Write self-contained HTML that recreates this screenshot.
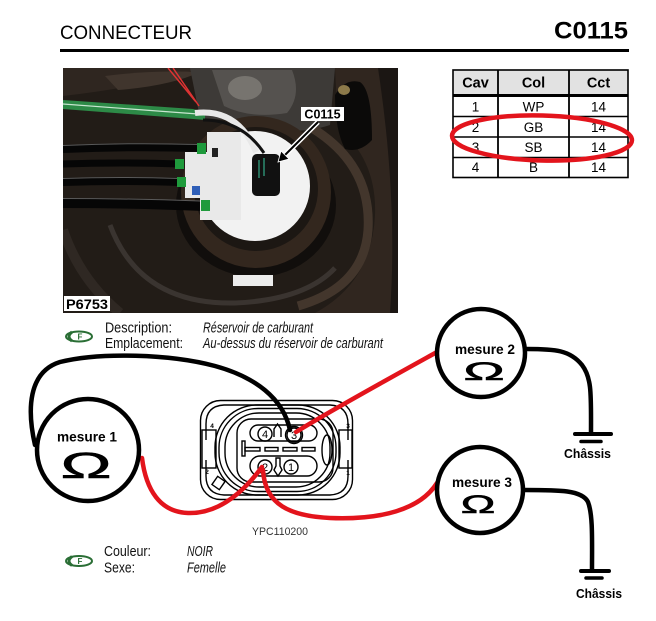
<!DOCTYPE html>
<html><head><meta charset="utf-8"><style>
html,body{margin:0;padding:0;background:#fff;}
svg{display:block;}
</style></head><body>
<svg width="656" height="621" viewBox="0 0 656 621" xmlns="http://www.w3.org/2000/svg" font-family="'Liberation Sans', Arial, sans-serif">
<defs>
<clipPath id="pc"><rect x="63" y="68" width="335" height="245"/></clipPath>
</defs>

<!-- Header -->
<text x="60" y="39" font-size="19" textLength="132" lengthAdjust="spacingAndGlyphs">CONNECTEUR</text>
<text x="554" y="38.5" font-size="24" font-weight="bold" textLength="74" lengthAdjust="spacingAndGlyphs">C0115</text>
<rect x="60" y="49" width="569" height="3" fill="#000"/>

<!-- Table -->
<rect x="453" y="70" width="175" height="25" fill="#e2e2e2"/>
<rect x="453" y="70" width="175" height="107.5" fill="none" stroke="#000" stroke-width="1.6"/>
<rect x="453" y="94" width="175" height="3" fill="#000"/>
<line x1="453" y1="116.5" x2="628" y2="116.5" stroke="#000" stroke-width="1.5"/>
<line x1="453" y1="137" x2="628" y2="137" stroke="#000" stroke-width="1.5"/>
<line x1="453" y1="157.5" x2="628" y2="157.5" stroke="#000" stroke-width="1.5"/>
<line x1="498" y1="70" x2="498" y2="177.5" stroke="#000" stroke-width="1.8"/>
<line x1="569" y1="70" x2="569" y2="177.5" stroke="#000" stroke-width="1.8"/>
<g font-size="14.5" font-weight="bold" text-anchor="middle">
<text x="475.5" y="87.5">Cav</text><text x="533.5" y="87.5">Col</text><text x="598.5" y="87.5">Cct</text>
</g>
<g font-size="13.5" text-anchor="middle">
<text x="475.5" y="111.5">1</text><text x="533.5" y="111.5">WP</text><text x="598.5" y="111.5">14</text>
<text x="475.5" y="131.8">2</text><text x="533.5" y="131.8">GB</text><text x="598.5" y="131.8">14</text>
<text x="475.5" y="152">3</text><text x="533.5" y="152">SB</text><text x="598.5" y="152">14</text>
<text x="475.5" y="172">4</text><text x="533.5" y="172">B</text><text x="598.5" y="172">14</text>
</g>
<ellipse cx="542" cy="138" rx="90" ry="22.5" fill="none" stroke="#e3141c" stroke-width="4.5" transform="rotate(1.5 542 138)"/>

<!-- Photo -->
<g clip-path="url(#pc)">
<rect x="63" y="68" width="335" height="245" fill="#221c17"/>
<path d="M63 68 H200 Q150 86 63 96 Z" fill="#2f2620"/>
<path d="M105 76 Q150 70 200 72 Q170 86 118 90 Z" fill="#40352d"/>
<path d="M190 68 H335 L330 125 Q300 135 270 128 Q240 120 200 118 Z" fill="#3d3a37"/>
<path d="M212 70 H292 Q302 95 287 113 Q250 119 224 106 Z" fill="#55524f"/>
<ellipse cx="245" cy="88" rx="17" ry="12" fill="#77746f"/>
<path d="M335 68 H398 V313 H315 Q372 282 375 215 Q377 160 338 128 Z" fill="#30261f"/>
<path d="M378 68 H398 V313 H390 Q398 200 378 68Z" fill="#1b1613"/>
<path d="M312 128 Q372 165 368 230 Q364 287 298 306" fill="none" stroke="#43362c" stroke-width="9"/>
<path d="M110 225 Q140 305 235 303 Q305 300 335 268" fill="none" stroke="#3a3430" stroke-width="5"/>
<path d="M63 230 Q80 280 120 313" fill="none" stroke="#2f2823" stroke-width="10"/>
<ellipse cx="256" cy="205" rx="80" ry="72" fill="#110e0c"/>
<ellipse cx="256" cy="192" rx="75" ry="76" fill="#33271e"/>
<ellipse cx="256" cy="189" rx="62" ry="62" fill="#1c1713"/>
<ellipse cx="255" cy="186" rx="55" ry="55" fill="#f2f2f2"/>
<rect x="233" y="275" width="40" height="11" fill="#ececec"/>
<!-- green band -->
<path d="M63 100 L193 109 L205 112 L205 120 L193 119 L63 109 Z" fill="#2d8a47"/>
<path d="M63 104 L198 114" stroke="#c8e6d0" stroke-width="1.2"/>
<path d="M168 68 L196 102 M173 68 L199 106" stroke="#d33" stroke-width="1.5" fill="none"/>
<!-- white wires -->
<path d="M195 113 Q238 108 256 152" stroke="#e8e8e8" stroke-width="6" fill="none"/>
<path d="M203 120 Q242 120 264 153" stroke="#111" stroke-width="3" fill="none"/>
<!-- cables -->
<g fill="none" stroke-linecap="butt">
<path d="M63 149 Q130 146 200 148" stroke="#060606" stroke-width="8"/>
<path d="M63 164 Q120 162 180 164" stroke="#060606" stroke-width="7"/>
<path d="M63 182 Q120 180 180 182" stroke="#060606" stroke-width="8"/>
<path d="M63 203 Q130 203 203 206" stroke="#060606" stroke-width="10"/>
<path d="M63 145.5 Q130 142.5 198 144.5" stroke="#5a5a5a" stroke-width="1"/>
<path d="M63 178.5 Q120 176.5 178 178.5" stroke="#5a5a5a" stroke-width="1"/>
<path d="M63 198.5 Q130 198.5 200 201" stroke="#5a5a5a" stroke-width="1"/>
</g>
<!-- white block -->
<path d="M207 132 H241 V220 H200 V198 H185 V152 H207 Z" fill="#e9e9e9"/>
<rect x="212" y="148" width="6" height="9" fill="#222"/>
<rect x="197" y="143" width="9" height="11" fill="#1f9a3c"/>
<rect x="175" y="159" width="9" height="10" fill="#1f9a3c"/>
<rect x="177" y="177" width="9" height="10" fill="#1f9a3c"/>
<rect x="201" y="200" width="9" height="11" fill="#1f9a3c"/>
<rect x="192" y="186" width="8" height="9" fill="#2f5fb8"/>
<!-- black connector -->
<rect x="252" y="154" width="28" height="42" rx="5" fill="#111"/>
<path d="M259 160 V178 M264 158 V176" stroke="#3a8" stroke-width="1.2"/>
<!-- tube -->
<path d="M335 95 Q345 78 360 82 Q372 90 372 140 Q360 153 345 149 Q335 130 335 95Z" fill="#0b0a09"/>
<ellipse cx="344" cy="90" rx="6" ry="5" fill="#8d7a4a"/>
<!-- labels -->
<rect x="301" y="107" width="43" height="14" fill="#fff"/>
<text x="322.5" y="118.5" font-size="12.5" font-weight="bold" text-anchor="middle">C0115</text>
<path d="M318 122 L282 158" stroke="#fff" stroke-width="5"/>
<path d="M318 122 L284 156" stroke="#000" stroke-width="2"/>
<polygon points="278,162 281,151 289,159" fill="#000" stroke="#fff" stroke-width="0.8"/>
<rect x="64" y="296" width="46" height="15" fill="#fff"/>
<text x="66" y="309" font-size="13.5" font-weight="bold" textLength="42" lengthAdjust="spacingAndGlyphs">P6753</text>
</g>

<!-- Description block -->
<g>
<ellipse cx="79" cy="336.5" rx="13" ry="5" fill="#fff" stroke="#2a6e35" stroke-width="2"/>
<path d="M72 332 Q66 336.5 72 341" fill="none" stroke="#2a6e35" stroke-width="3"/>
<text x="80" y="339.5" font-size="8" font-weight="bold" fill="#2a6e35" text-anchor="middle">F</text>
</g>
<text x="105" y="332.5" font-size="15" textLength="67" lengthAdjust="spacingAndGlyphs" fill="#111">Description:</text>
<text x="105" y="348" font-size="15" textLength="78" lengthAdjust="spacingAndGlyphs" fill="#111">Emplacement:</text>
<text x="203" y="332.5" font-size="15" font-style="italic" textLength="110" lengthAdjust="spacingAndGlyphs" fill="#111">Réservoir de carburant</text>
<text x="203" y="348" font-size="15" font-style="italic" textLength="180" lengthAdjust="spacingAndGlyphs" fill="#111">Au-dessus du réservoir de carburant</text>

<!-- Connector drawing -->
<g fill="none" stroke="#000" stroke-width="1.4">
<rect x="200.5" y="400.5" width="152" height="99" rx="20" fill="#fff"/>
<path d="M206 440 V424 Q206 406 224 405 H330 Q348 406 348 424 V440 M348 460 V476 Q348 494 330 495 H224 Q206 494 206 476 V460"/>
<rect x="202" y="430" width="14" height="38"/>
<rect x="339" y="430" width="13" height="38"/>
<rect x="215" y="405" width="125" height="90" rx="42"/>
<rect x="219" y="408.5" width="117" height="83" rx="39"/>
<rect x="225" y="413" width="105" height="74" rx="34"/>
<rect x="237" y="419" width="96" height="63" rx="14"/>
<rect x="250" y="425" width="67" height="16" rx="8"/>
<rect x="250" y="456" width="67" height="20" rx="10"/>
<circle cx="265" cy="434" r="7"/>
<circle cx="294" cy="435" r="7"/>
<circle cx="294" cy="435" r="8.5"/>
<circle cx="265" cy="467" r="7"/>
<circle cx="291" cy="467" r="7"/>
<path d="M274 437 V429 L277.5 424 L281 429 V437"/>
<path d="M276 458 H280 V466 L282 470 L278 476 L274 470 L276 466 Z"/>
<rect x="242" y="441" width="3" height="15"/>
<rect x="245" y="447.5" width="15" height="3.5"/>
<rect x="265" y="447.5" width="13" height="3.5"/>
<rect x="283" y="447.5" width="14" height="3.5"/>
<rect x="302" y="447.5" width="13" height="3.5"/>
<ellipse cx="327" cy="450" rx="5" ry="15"/>
<rect x="214" y="478" width="9" height="10" transform="rotate(35 218.5 483)"/>
</g>
<g font-size="11" text-anchor="middle">
<text x="265" y="438">4</text><text x="294" y="439">3</text><text x="265" y="471">2</text><text x="291" y="471">1</text>
</g>
<g font-size="6.5" font-weight="bold" text-anchor="middle">
<text x="212" y="428">4</text><text x="348" y="428">3</text><text x="207" y="474">2</text><text x="348" y="475">1</text>
</g>
<text x="252" y="535" font-size="11" fill="#333" textLength="56" lengthAdjust="spacingAndGlyphs">YPC110200</text>

<!-- Wires -->
<g fill="none" stroke-width="4.5" stroke-linecap="round">
<path d="M35 445 C 27 410, 28 372, 60 362 C 100 352, 170 354, 215 366 C 255 377, 283 398, 290 430" stroke="#000"/>
<path d="M296 432 C 330 411, 390 378, 437 352" stroke="#e3141c"/>
<path d="M142 458 C 146 490, 160 512, 188 513 C 220 514, 245 490, 262 467" stroke="#e3141c"/>
<path d="M263 470 C 265 505, 290 516, 330 518 C 380 520, 420 510, 437 483" stroke="#e3141c"/>
<path d="M527 349 C 555 349, 570 350, 582 365 C 592 378, 591 395, 591 433" stroke="#000"/>
<path d="M524 490 C 560 490, 582 490, 588 502 C 593 515, 592 540, 592 570" stroke="#000"/>
</g>
<g stroke="#000" stroke-linecap="round">
<line x1="575" y1="434" x2="611" y2="434" stroke-width="4"/>
<line x1="581" y1="441.5" x2="601" y2="441.5" stroke-width="3.5"/>
<line x1="581" y1="571" x2="609" y2="571" stroke-width="4"/>
<line x1="586" y1="578" x2="602" y2="578" stroke-width="3.5"/>
</g>
<g font-size="13" font-weight="bold">
<text x="564" y="458" textLength="47" lengthAdjust="spacingAndGlyphs">Châssis</text>
<text x="576" y="598" textLength="46" lengthAdjust="spacingAndGlyphs">Châssis</text>
</g>

<!-- Measure circles -->
<g fill="#fff" stroke="#000" stroke-width="4.5">
<circle cx="88" cy="450" r="51"/>
<circle cx="481" cy="353" r="44"/>
<circle cx="480" cy="490" r="43"/>
</g>
<g font-size="14" font-weight="bold" text-anchor="middle">
<text x="87" y="441.5" textLength="60" lengthAdjust="spacingAndGlyphs">mesure 1</text>
<text x="485" y="354" textLength="60" lengthAdjust="spacingAndGlyphs">mesure 2</text>
<text x="482" y="487" textLength="60" lengthAdjust="spacingAndGlyphs">mesure 3</text>
</g>
<g text-anchor="middle" stroke="#000" stroke-width="0.6">
<text transform="translate(86 478) scale(1.9 1)" font-size="36">Ω</text>
<text transform="translate(484 380) scale(2.2 1)" font-size="25">Ω</text>
<text transform="translate(478 513) scale(1.85 1)" font-size="25">Ω</text>
</g>

<!-- Couleur block -->
<g>
<ellipse cx="79" cy="561" rx="13" ry="5" fill="#fff" stroke="#2a6e35" stroke-width="2"/>
<path d="M72 556.5 Q66 561 72 565.5" fill="none" stroke="#2a6e35" stroke-width="3"/>
<text x="80" y="564" font-size="8" font-weight="bold" fill="#2a6e35" text-anchor="middle">F</text>
</g>
<text x="104" y="556" font-size="15" textLength="47" lengthAdjust="spacingAndGlyphs" fill="#111">Couleur:</text>
<text x="104" y="572.5" font-size="15" textLength="31" lengthAdjust="spacingAndGlyphs" fill="#111">Sexe:</text>
<text x="187" y="556" font-size="15" font-style="italic" textLength="26" lengthAdjust="spacingAndGlyphs" fill="#111">NOIR</text>
<text x="187" y="572.5" font-size="15" font-style="italic" textLength="39" lengthAdjust="spacingAndGlyphs" fill="#111">Femelle</text>
</svg>
</body></html>
